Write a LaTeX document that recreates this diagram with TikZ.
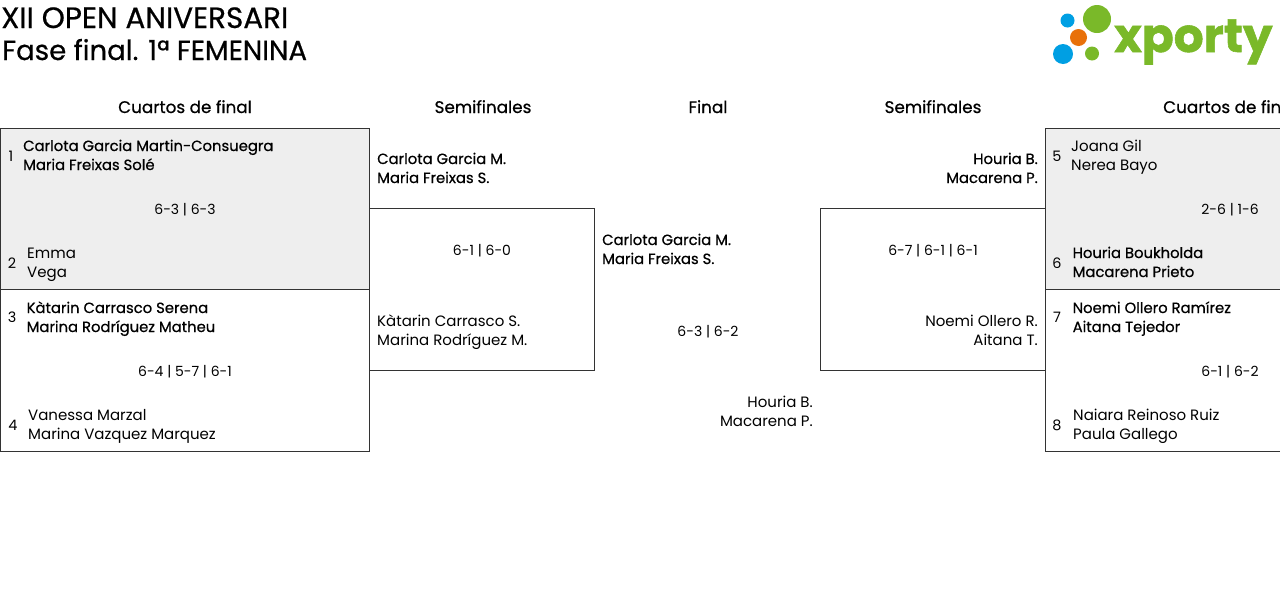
\documentclass[tikz,border=0pt]{standalone}
\usepackage{fontspec}
\setmainfont{Poppins}
\newfontfamily\medfont[FakeBold=0.6]{Poppins}
\newfontfamily\logofont[BoldFont={Poppins Bold},BoldFeatures={FakeBold=1.2}]{Poppins}
\definecolor{winbg}{HTML}{EEEEEE}
\definecolor{boxline}{HTML}{333333}
\definecolor{lgreen}{HTML}{7AB929}
\definecolor{lblue}{HTML}{009FE3}
\definecolor{lorange}{HTML}{E8710A}
\tikzset{
  x=1pt,y=-1pt,
  cell/.style={draw=boxline,line width=0.8pt,anchor=north west,inner sep=0pt,outer sep=0pt},
  names/.style={inner sep=0pt,anchor=base west,align=left,font=\fontsize{15}{19}\selectfont},
  winner/.style={names,font=\fontsize{14.8}{19}\selectfont\medfont},
  namesr/.style={names,anchor=base east,align=right},
  winnerr/.style={winner,anchor=base east,align=right},
  score/.style={inner sep=0pt,anchor=base,font=\fontsize{14}{19}\selectfont},
  seed/.style={inner sep=0pt,anchor=base,font=\fontsize{14.4}{19}\selectfont},
  round/.style={inner sep=0pt,anchor=base,font=\fontsize{16.8}{20}\selectfont\medfont},
  heading/.style={inner sep=0pt,anchor=base west},
  dot/.style={circle,inner sep=0pt,outer sep=0pt}
}
\begin{document}
\begin{tikzpicture}
\useasboundingbox (0,0) rectangle (1280,598);
\clip (0,0) rectangle (1280,598);
\node[heading,font=\fontsize{29.4}{30}\selectfont\medfont] (t1) at (1,28) {XII OPEN ANIVERSARI};
\node[heading,font=\fontsize{27.6}{30}\selectfont\medfont] (t2) at (2,60) {Fase final. 1ª FEMENINA};
% logo
\node[dot,fill=lgreen,minimum size=28pt] (l1) at (1097,19) {};
\node[dot,fill=lblue,minimum size=14pt] (l2) at (1067.5,20.5) {};
\node[dot,fill=lorange,minimum size=17pt] (l3) at (1078.5,37.5) {};
\node[dot,fill=lblue,minimum size=20pt] (l4) at (1063,54) {};
\node[dot,fill=lgreen,minimum size=14pt] (l5) at (1092,53.5) {};
\node[inner sep=0pt,anchor=base west,text=lgreen,font=\fontsize{47}{50}\selectfont\logofont\bfseries] (logo) at (1114,52) {xporty};
% round titles
\node[round] (r1) at (185,113) {Cuartos de final};
\node[round] (r2) at (483,113) {Semifinales};
\node[round] (r3) at (708,113) {Final};
\node[round] (r4) at (933,113) {Semifinales};
\node[round] (r5) at (1230,113) {Cuartos de final};
% boxes
\node[cell,fill=winbg,minimum width=369pt,minimum height=161pt] (b1) at (0.5,128.5) {};
\node[cell,minimum width=369pt,minimum height=162pt] (b2) at (0.5,289.5) {};
\node[cell,minimum width=225pt,minimum height=162pt] (b3) at (369.5,208.5) {};
\node[cell,minimum width=225pt,minimum height=162pt] (b4) at (820.5,208.5) {};
\node[cell,fill=winbg,minimum width=369pt,minimum height=161pt] (b5) at (1045.5,128.5) {};
\node[cell,minimum width=369pt,minimum height=162pt] (b6) at (1045.5,289.5) {};
% left quarter-finals
\node[seed] (s1) at (11,161) {1};
\node[winner] (n1) at (23,170) {Carlota Garcia Martin-Consuegra\\Maria Freixas Solé};
\node[score] (sc1) at (185,214) {6-3 | 6-3};
\node[seed] (s2) at (12,268) {2};
\node[names] (n2) at (27,277) {Emma\\Vega};
\node[seed] (s3) at (12,322) {3};
\node[winner] (n3) at (26.5,332) {Kàtarin Carrasco Serena\\Marina Rodríguez Matheu};
\node[score] (sc2) at (185,376) {6-4 | 5-7 | 6-1};
\node[seed] (s4) at (13,430) {4};
\node[names] (n4) at (28,439) {Vanessa Marzal\\Marina Vazquez Marquez};
% left semi
\node[winner] (n5) at (377,183) {Carlota Garcia M.\\Maria Freixas S.};
\node[score] (sc3) at (482,255) {6-1 | 6-0};
\node[names] (n6) at (377,345) {Kàtarin Carrasco S.\\Marina Rodríguez M.};
% final
\node[winner] (n7) at (602,264) {Carlota Garcia M.\\Maria Freixas S.};
\node[score] (sc4) at (708,336) {6-3 | 6-2};
\node[namesr] (n8) at (813,426) {Houria B.\\Macarena P.};
% right semi
\node[winnerr] (n9) at (1038,183) {Houria B.\\Macarena P.};
\node[score] (sc5) at (933,255) {6-7 | 6-1 | 6-1};
\node[namesr] (n10) at (1038,345) {Noemi Ollero R.\\Aitana T.};
% right quarter-finals
\node[seed] (s5) at (1057,161) {5};
\node[names] (n11) at (1071,170) {Joana Gil\\Nerea Bayo};
\node[score] (sc6) at (1230,214) {2-6 | 1-6};
\node[seed] (s6) at (1057,268) {6};
\node[winner] (n12) at (1072.5,277) {Houria Boukholda\\Macarena Prieto};
\node[seed] (s7) at (1057,322) {7};
\node[winner] (n13) at (1072.5,332) {Noemi Ollero Ramírez\\Aitana Tejedor};
\node[score] (sc7) at (1230,376) {6-1 | 6-2};
\node[seed] (s8) at (1057,430) {8};
\node[names] (n14) at (1073,439) {Naiara Reinoso Ruiz\\Paula Gallego};
\end{tikzpicture}
\end{document}
